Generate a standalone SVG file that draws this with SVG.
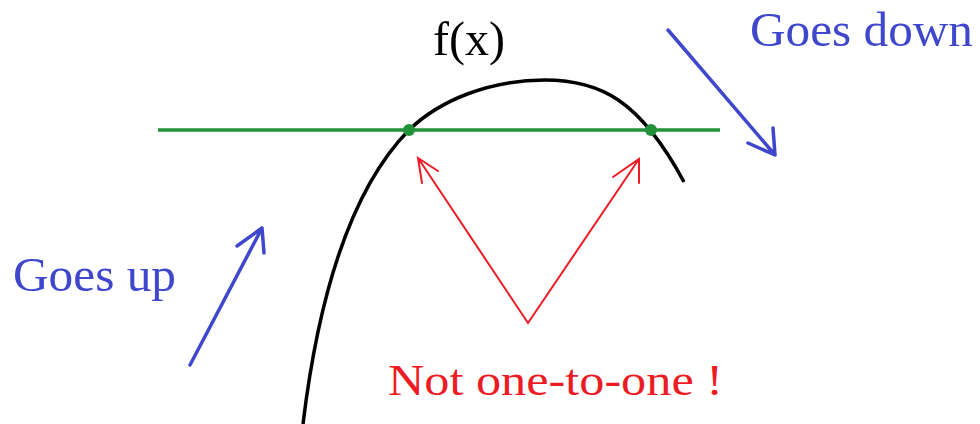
<svg xmlns="http://www.w3.org/2000/svg" width="980" height="424" viewBox="0 0 980 424">
<style>
.t{font-family:"Liberation Serif","Times New Roman",serif}
.blue{fill:#3f48cc}
.red{fill:#ed1c24}
.ba{stroke:#3f48cc;stroke-width:3.5;fill:none;stroke-linecap:round;stroke-linejoin:round}
.ra{stroke:#ed1c24;stroke-width:2;fill:none;stroke-linecap:round;stroke-linejoin:miter}
</style>
<rect width="980" height="424" fill="#fff"/>
<g id="curve">
<path d="M303,424 C318,300 350,190 409,130 C440,100 490,80 545,80 C600,80 640,100 684,182" fill="none" stroke="#000" stroke-width="3.5"/>
</g>
<g id="line">
<line x1="158" y1="130" x2="720" y2="130" stroke="#22913a" stroke-width="3.5"/>
<circle cx="409" cy="130" r="6" fill="#22913a"/>
<circle cx="651" cy="130" r="6" fill="#22913a"/>
</g>
<g id="labels">
<text class="t" x="433" y="55" font-size="48" fill="#000" textLength="72" lengthAdjust="spacingAndGlyphs">f(x)</text>
<text class="t blue" x="750" y="46" font-size="48" textLength="223" lengthAdjust="spacingAndGlyphs">Goes down</text>
<text class="t blue" x="13" y="291" font-size="49" textLength="163" lengthAdjust="spacingAndGlyphs">Goes up</text>
<text class="t red" x="388" y="395" font-size="45" textLength="335" lengthAdjust="spacingAndGlyphs">Not one-to-one !</text>
</g>
<g id="connectors">
<path class="ba" d="M668,30 L775,155 M773,128 L775,155 L748,143"/>
<path class="ba" d="M190,365 L262,228 M237,246 L262,228 L264,253"/>
<path class="ra" d="M418,158 L528,323 L639,159 M438,171 L418,158 L422,183 M613,177 L639,159 L639,183"/>
</g>
</svg>
